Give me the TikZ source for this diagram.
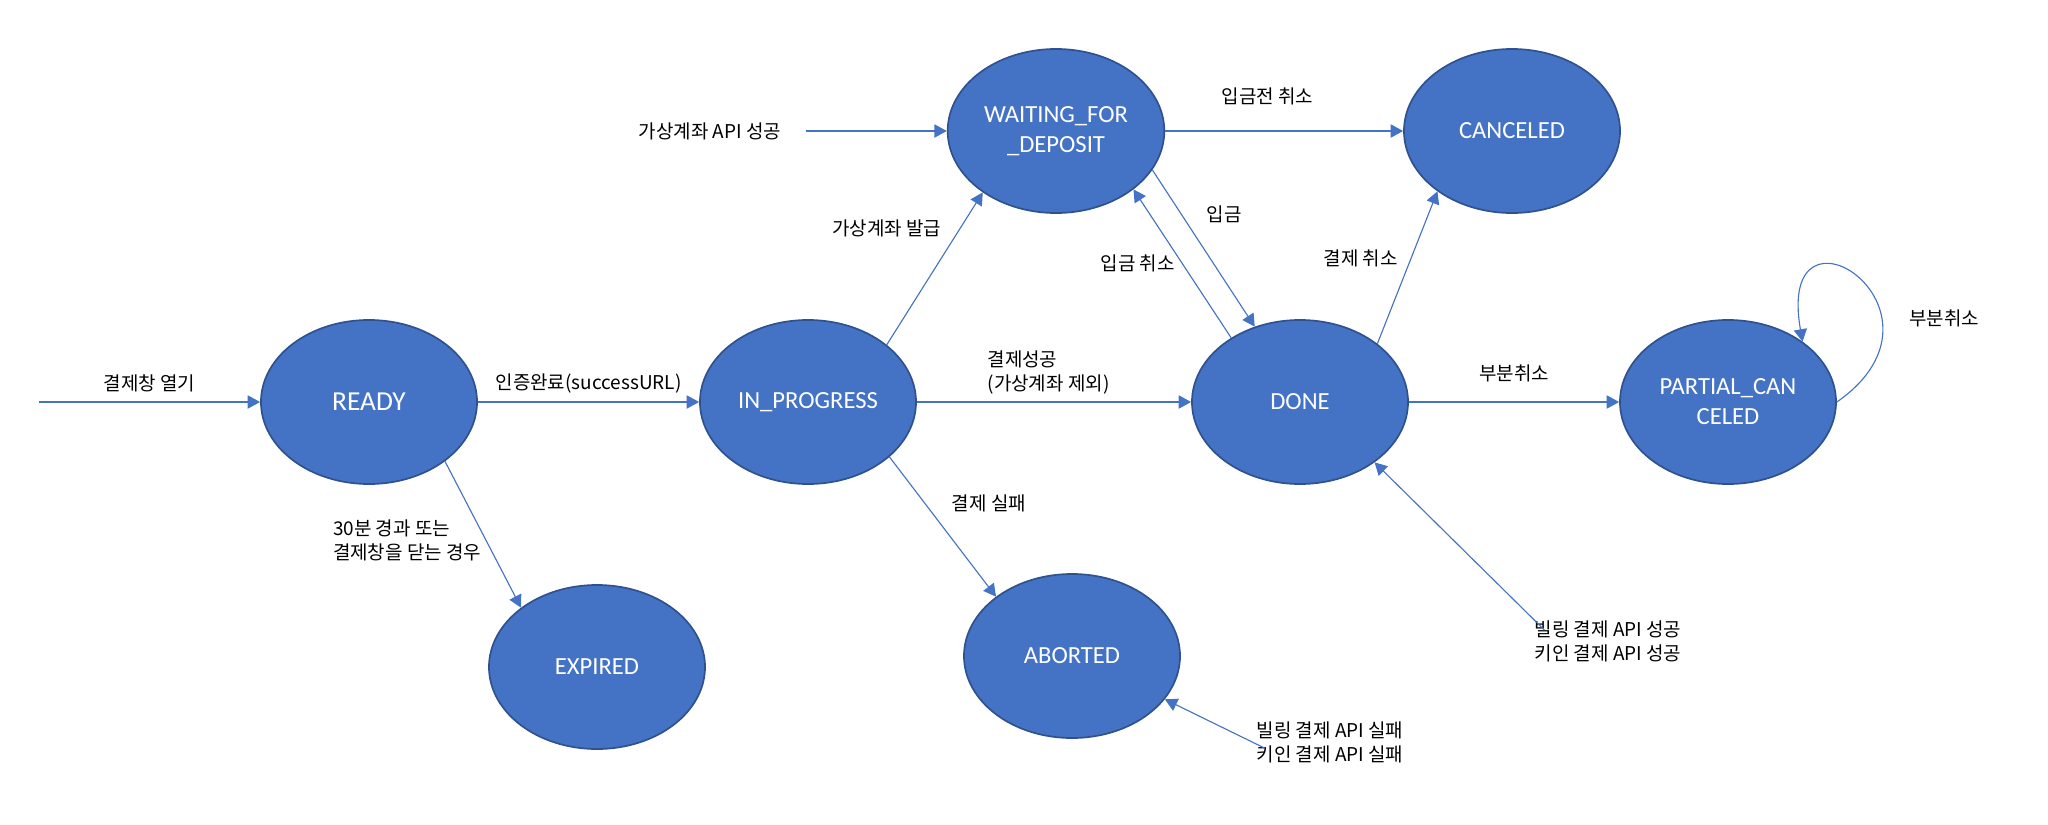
\documentclass[tikz,border=0pt]{standalone}
\usepackage{fontspec}
\setmainfont{Carlito}
\newfontfamily\krfont{Noto Sans CJK KR}
\usetikzlibrary{arrows.meta, positioning, shapes.geometric}
\definecolor{stateblue}{HTML}{4472C4}
\definecolor{stateline}{HTML}{2F528F}
\tikzset{
  bubble/.style={
    ellipse,
    draw=stateline,
    fill=stateblue,
    line width=1.2pt,
    minimum width=5.4cm,
    minimum height=4.1cm,
    align=center,
    text=white,
    font=\fontsize{17.5}{21.3}\selectfont
  },
  arrow/.style={-{Triangle[length=3.1mm, width=3.3mm]}, draw=stateblue, line width=0.8pt},
  note/.style={font=\krfont\fontsize{13.5}{17}\selectfont, align=left, inner sep=3pt}
}

\begin{document}
\begin{tikzpicture}[x=0.025cm, y=-0.025cm]
\useasboundingbox (0,0) rectangle (2048,824);

\node[bubble, font=\fontsize{19.5}{24}\selectfont] (ready) at (369,402) {READY};
\node[bubble] (inprog) at (808,402) {IN\_PROGRESS};
\node[bubble] (waiting) at (1056,131) {WAITING\_FOR\\\_DEPOSIT};
\node[bubble] (canceled) at (1512,131) {CANCELED};
\node[bubble] (done) at (1300,402) {DONE};
\node[bubble] (partial) at (1728,402) {PARTIAL\_CAN\\CELED};
\node[bubble] (expired) at (597,667) {EXPIRED};
\node[bubble] (aborted) at (1072,656) {ABORTED};

\node[note] (vaok) at (710,131) {가상계좌 API 성공};
\node[note] (billok) at (1608,641) {빌링 결제 API 성공\\키인 결제 API 성공};
\node[note] (billfail) at (1330,742) {빌링 결제 API 실패\\키인 결제 API 실패};
\coordinate (entry) at (39,402);

\draw[arrow] (entry) -- node[note, above=4pt] {결제창 열기} (ready);
\draw[arrow] (ready) -- node[note, above=3pt] {인증완료(successURL)} (inprog);
\draw[arrow] (ready.-38) -- node[note, pos=0.54, left] {30분 경과 또는\\결제창을 닫는 경우} (expired.142);
\draw[arrow] (inprog.36) -- node[note, pos=0.765, left=10pt] {가상계좌 발급} (waiting.220);
\draw[arrow] (inprog) -- node[note, pos=0.48, above=2pt] {결제성공\\(가상계좌 제외)} (done);
\draw[arrow] (inprog.-34) -- node[note, pos=0.33, right=16pt] {결제 실패} (aborted.142);
\draw[arrow, shorten <=0.5cm] (vaok.east) -- (waiting);
\draw[arrow] (waiting) -- node[note, pos=0.43, above=15pt] {입금전 취소} (canceled);
\draw[arrow] (waiting.-22) -- node[note, pos=0.28, right=15pt] {입금} (done.121);
\draw[arrow] (done.137) -- node[note, pos=0.5, left=2pt] {입금 취소} (waiting.-37);
\draw[arrow] (done.37) -- node[note, pos=0.56, left=6pt] {결제 취소} (canceled.219);
\draw[arrow] (done) -- node[note, above=11pt] {부분취소} (partial);
\draw[arrow] (partial.east) to[out=35, in=100, distance=4cm] node[note, pos=0.3, right=16pt] {부분취소} (partial.39);
\draw[arrow, shorten <=-0.5cm] (billok.north west) -- (done.-39);
\draw[arrow, shorten <=-0.35cm] (billfail.west) -- (aborted.-25);
\end{tikzpicture}
\end{document}
